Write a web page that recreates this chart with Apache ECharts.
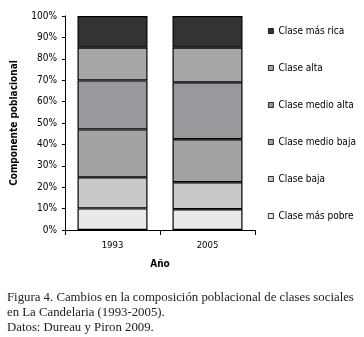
<!DOCTYPE html>
<html><head><meta charset="utf-8">
<script src="https://cdn.jsdelivr.net/npm/echarts@6/dist/echarts.min.js"></script>
<style>html,body{margin:0;padding:0;background:#fff}#c{width:364px;height:337px}</style>
</head><body><div id="c"></div>
<script>
const years = ['1993', '2005'];
const seriesNames = ['Clase más pobre', 'Clase baja', 'Clase medio baja', 'Clase medio alta', 'Clase alta', 'Clase más rica'];
const pobre = [10.1, 9.7];
const baja = [14.5, 12.6];
const medioBaja = [22.4, 20.1];
const medioAlta = [22.9, 26.6];
const alta = [15.3, 16.2];
const rica = [14.8, 14.8];
const yTicks = [0, 10, 20, 30, 40, 50, 60, 70, 80, 90, 100];
const caption = ['Figura 4. Cambios en la composición poblacional de clases sociales', 'en La Candelaria (1993-2005).', 'Datos: Dureau y Piron 2009.'];

const values = [pobre, baja, medioBaja, medioAlta, alta, rica];
const colors = ['#e9e9eb', '#c8c9cb', '#a2a3a5', '#98999d', '#a6a7a9', '#333335'];
const narrow = '"DejaVu Sans Condensed", "Liberation Sans", sans-serif';

const chart = echarts.init(document.getElementById('c'));
chart.setOption({
  animation: false,
  textStyle: {fontFamily: narrow},
  grid: {left: 65, right: 109, top: 16, bottom: 107},
  legend: {
    orient: 'vertical', left: 263, top: 21,
    itemWidth: 5, itemHeight: 5, itemGap: 27, icon: 'rect',
    itemStyle: {borderWidth: 0.8, borderColor: '#000'},
    data: seriesNames.slice().reverse(),
    textStyle: {fontFamily: narrow, fontSize: 10, color: '#000'}
  },
  xAxis: {
    type: 'category', data: years,
    name: 'Año', nameLocation: 'middle', nameGap: 29,
    nameTextStyle: {fontFamily: narrow, fontSize: 10, fontWeight: 'bold', color: '#000'},
    axisLine: {lineStyle: {color: '#000', width: 1}},
    axisTick: {show: true, length: 5, lineStyle: {color: '#000'}},
    axisLabel: {fontFamily: narrow, fontSize: 9.5, color: '#000', margin: 11}
  },
  yAxis: {
    type: 'value', min: 0, max: 100, interval: 10,
    name: 'Componente poblacional', nameLocation: 'middle', nameRotate: 90, nameGap: 46,
    nameTextStyle: {fontFamily: narrow, fontSize: 10, fontWeight: 'bold', color: '#000'},
    axisLine: {show: true, lineStyle: {color: '#000', width: 1}},
    axisTick: {show: true, length: 3, lineStyle: {color: '#000'}},
    splitLine: {show: false},
    axisLabel: {fontFamily: narrow, fontSize: 10, color: '#000', margin: 8,
      formatter: v => yTicks.includes(v) ? v + '%' : ''}
  },
  series: seriesNames.map((n, i) => ({
    name: n, type: 'bar', stack: 'total', barWidth: 70,
    data: values[i],
    itemStyle: {color: colors[i], borderColor: '#000', borderWidth: 1.2}
  })),
  graphic: caption.map((t, i) => ({
    type: 'text', left: 7, top: 291 + i * 15,
    style: {text: t, fontFamily: '"Liberation Serif", serif', fontSize: 12.8, fill: '#222'}
  }))
});
</script></body></html>
